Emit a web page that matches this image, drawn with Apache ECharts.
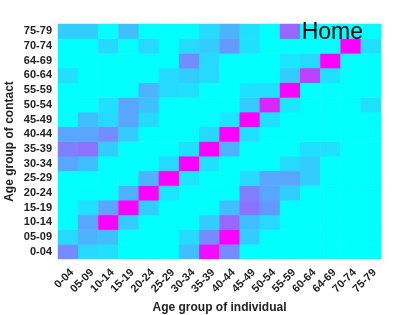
<!DOCTYPE html>
<html><head><meta charset="utf-8">
<script src="https://cdn.jsdelivr.net/npm/echarts@6/dist/echarts.min.js"></script>
<style>html,body{margin:0;padding:0;background:#fff}#c{width:420px;height:315px}</style>
</head><body><div id="c"></div>
<script>
const individualAges = ['0-04','05-09','10-14','15-19','20-24','25-29','30-34','35-39','40-44','45-49','50-54','55-59','60-64','64-69','70-74','75-79'];
const contactAges = ['0-04','05-09','10-14','15-19','20-24','25-29','30-34','35-39','40-44','45-49','50-54','55-59','60-64','64-69','70-74','75-79'];
// rows: contact age group (bottom to top); columns: individual age group
const row00_04 = [0.45,0.15,0.12,0,0,0,0.25,0.95,0.45,0,0,0,0,0,0,0];
const row05_09 = [0.15,0.3,0.25,0,0,0,0.15,0.45,1.0,0.2,0,0,0,0,0,0];
const row10_14 = [0,0.35,1.0,0.2,0,0,0,0.2,0.6,0.25,0.15,0,0,0,0,0];
const row15_19 = [0,0.12,0.35,1.0,0.2,0,0,0,0.25,0.55,0.4,0,0,0,0,0];
const row20_24 = [0,0,0,0.3,1.0,0.1,0,0,0,0.5,0.35,0.2,0,0,0,0];
const row25_29 = [0,0,0,0,0.3,1.0,0.1,0,0,0.15,0.35,0.35,0.2,0,0,0];
const row30_34 = [0.35,0.25,0,0,0,0.15,1.0,0.12,0,0,0,0.15,0.2,0,0,0];
const row35_39 = [0.5,0.55,0.2,0,0,0,0.12,1.0,0.3,0,0,0,0.12,0.12,0,0];
const row40_44 = [0.35,0.35,0.45,0.2,0,0,0,0.15,1.0,0.12,0,0,0,0,0,0];
const row45_49 = [0,0.25,0.15,0.35,0.15,0,0,0,0.1,1.0,0.12,0,0,0,0,0];
const row50_54 = [0,0,0.12,0.35,0.25,0,0,0,0,0.2,0.85,0.1,0,0,0,0.12];
const row55_59 = [0,0,0,0,0.3,0.15,0.12,0,0,0.12,0.12,1.0,0,0,0,0];
const row60_64 = [0.12,0,0,0,0,0.15,0.2,0.15,0,0,0,0.2,0.75,0.12,0,0];
const row64_69 = [0,0,0,0,0,0,0.45,0.15,0,0,0,0.1,0.15,1.0,0,0];
const row70_74 = [0,0,0.15,0,0.15,0,0.15,0.2,0.4,0.12,0,0,0,0,1.0,0.12];
const row75_79 = [0.2,0.2,0,0.25,0,0,0,0.15,0.3,0.12,0,0.6,0,0,0,0];
const rows = [row00_04,row05_09,row10_14,row15_19,row20_24,row25_29,row30_34,row35_39,row40_44,row45_49,row50_54,row55_59,row60_64,row64_69,row70_74,row75_79];
const titleText = 'Home';

const data = [];
rows.forEach((r, y) => r.forEach((v, x) => data.push([x, y, v])));

const chart = echarts.init(document.getElementById('c'), null, {renderer: 'canvas'});
const font = '"Liberation Sans", Arial, sans-serif';
chart.setOption({
  animation: false,
  backgroundColor: '#ffffff',
  title: {
    text: titleText, right: 52, top: 16,
    textStyle: {fontFamily: font, fontSize: 23, fontWeight: 'normal', color: '#000'}
  },
  grid: {left: 58, right: 39, top: 24, bottom: 56, containLabel: false, outerBoundsMode: 'none'},
  xAxis: {
    type: 'category', data: individualAges,
    name: 'Age group of individual', nameLocation: 'middle', nameGap: 42,
    nameTextStyle: {fontFamily: font, fontSize: 12, fontWeight: 'bold', color: '#222'},
    axisLine: {show: false}, axisTick: {show: false}, splitArea: {show: false},
    axisLabel: {rotate: 45, margin: 8, interval: 0, verticalAlign: 'top', fontFamily: font, fontSize: 11, fontWeight: 'bold', color: '#222'}
  },
  yAxis: {
    type: 'category', data: contactAges,
    name: 'Age group of contact', nameLocation: 'middle', nameGap: 42, nameMoveOverlap: false,
    nameTextStyle: {fontFamily: font, fontSize: 12, fontWeight: 'bold', color: '#222'},
    axisLine: {show: false}, axisTick: {show: false},
    axisLabel: {margin: 6, interval: 0, fontFamily: font, fontSize: 11, fontWeight: 'bold', color: '#222'}
  },
  visualMap: {show: false, min: 0, max: 1, dimension: 2, inRange: {color: ['#00ffff', '#ff00ff']}},
  series: [{type: 'heatmap', data: data, itemStyle: {borderWidth: 0}}]
});
</script></body></html>
